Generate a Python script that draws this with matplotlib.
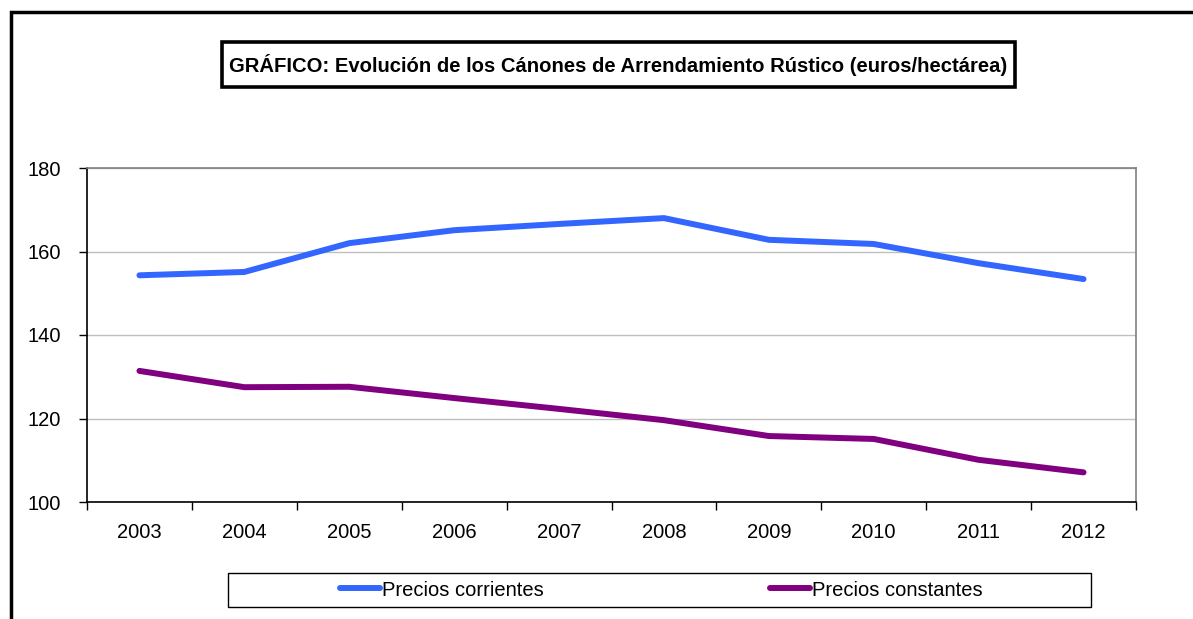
import matplotlib
matplotlib.use("Agg")
import matplotlib.pyplot as plt
from matplotlib.patches import Rectangle
import numpy as np

years = ["2003", "2004", "2005", "2006", "2007", "2008", "2009", "2010", "2011", "2012"]
corrientes = [154.3, 155.1, 162.0, 165.1, 166.6, 168.0, 162.8, 161.8, 157.2, 153.4]
constantes = [131.4, 127.5, 127.6, 124.9, 122.3, 119.6, 115.8, 115.1, 110.1, 107.1]

plt.rcParams['font.family'] = ['Liberation Sans', 'DejaVu Sans']

W, H = 1193, 619
fig = plt.figure(figsize=(W / 100, H / 100), dpi=100)

def fx(px):
    return px / W

def fy(py):
    return 1 - py / H

# axes placement in pixels
left, right, top, bottom = 87, 1136, 168, 502
ax = fig.add_axes([fx(left), fy(bottom), (right - left) / W, (bottom - top) / H])

x = np.arange(len(years))
ax.plot(x, corrientes, color="#3366FF", lw=4.3, solid_capstyle="round", solid_joinstyle="round", label="Precios corrientes")
ax.plot(x, constantes, color="#800080", lw=4.3, solid_capstyle="round", solid_joinstyle="round", label="Precios constantes")

ax.set_xlim(-0.5, len(years) - 0.5)
ax.set_ylim(100, 180)
ax.set_yticks([100, 120, 140, 160, 180])
ax.set_xticks(x)
ax.set_xticklabels(years)
ax.set_xticks(np.arange(-0.5, len(years)), minor=True)
ax.tick_params(axis="x", which="major", length=0, pad=15, labelsize=14.5)
ax.tick_params(axis="x", which="minor", length=6, width=1, color="black", direction="out")
ax.tick_params(axis="y", length=6, width=1, color="black", direction="out", pad=13, labelsize=14.5)
ax.yaxis.grid(True, color="#C0C0C0", lw=1)
ax.set_axisbelow(True)
for s in ["left", "bottom"]:
    ax.spines[s].set_color("black")
    ax.spines[s].set_linewidth(1.2)
for s in ["top", "right"]:
    ax.spines[s].set_color("#808080")
    ax.spines[s].set_linewidth(1.2)

# Title box
fig.patches.append(Rectangle((fx(222), fy(87)), (1015 - 222) / W, (87 - 42) / H,
                             transform=fig.transFigure, facecolor="white",
                             edgecolor="black", linewidth=2.6, zorder=5))
fig.text(fx((222 + 1015) / 2), fy(65),
         "GRÁFICO: Evolución de los Cánones de Arrendamiento Rústico (euros/hectárea)",
         ha="center", va="center", fontsize=14.6, fontweight="bold", zorder=6)

# Legend box and legend
fig.patches.append(Rectangle((fx(228), fy(607)), (1091 - 228) / W, (607 - 573) / H,
                             transform=fig.transFigure, facecolor="white",
                             edgecolor="black", linewidth=1.0, zorder=5))
leg = fig.legend(loc="center left", bbox_to_anchor=(fx(340), fy(590)), ncol=2,
                 fontsize=14.5, frameon=False,
                 handlelength=2.0, handletextpad=0.1, columnspacing=11.2, borderpad=0,
                 borderaxespad=0)
leg.set_zorder(7)

# Outer border (partially outside figure)
fig.patches.append(Rectangle((fx(11), -0.1), 1.2, fy(12) + 0.1, transform=fig.transFigure,
                             fill=False, edgecolor="black", linewidth=2.5, zorder=10))

fig.savefig("out.png", dpi=100)
